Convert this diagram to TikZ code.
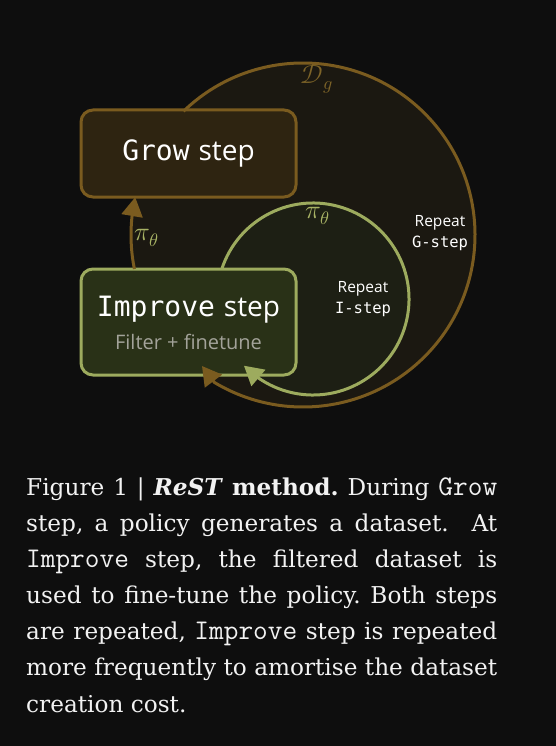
\documentclass[tikz,border=0pt]{standalone}
\usepackage{fontspec}
\usepackage{unicode-math}
\setmathfont{Latin Modern Math}
\setmainfont{DejaVu Serif}
\setsansfont{Open Sans}
\setmonofont{Latin Modern Mono}
\newfontfamily\dmono{DejaVu Sans Mono}
\newcommand\captt[1]{{\fontsize{28.5}{36.1}\selectfont\ttfamily #1}}
\usetikzlibrary{arrows.meta,bending}
\definecolor{bgcol}{HTML}{0E0E0E}
\definecolor{brownline}{HTML}{7A5B1F}
\definecolor{growfill}{HTML}{2E2411}
\definecolor{greenline}{HTML}{9DAB5E}
\definecolor{impfill}{HTML}{293117}
\definecolor{outerdisk}{HTML}{1B1811}
\definecolor{innerdisk}{HTML}{1D1F14}
\definecolor{pilabel}{HTML}{A7B264}
\definecolor{dlabel}{HTML}{7E6428}
\definecolor{subgray}{HTML}{A3A39A}
\definecolor{captext}{HTML}{F2F2F2}
\begin{document}
\begin{tikzpicture}[x=1pt,y=1pt,
  stepbox/.style={rounded corners=12pt, line width=3pt, minimum width=215pt, inner sep=0pt, text=white, align=center},
  tip/.style={-{Triangle[length=19pt,width=21pt]}},
  brownarc/.style={draw=brownline, line width=3pt, tip},
  greenarc/.style={draw=greenline, line width=3pt, tip},
  pilab/.style={text=pilabel, font=\fontsize{26}{28}\selectfont},
  replab/.style={text=white, align=center, font=\fontsize{15.5}{21}\selectfont\sffamily}
]
\fill[bgcol] (0,0) rectangle (556,-746);
\useasboundingbox (0,0) rectangle (556,-746);
% circle centres
\coordinate (oc) at (303,-235);
\coordinate (ic) at (313,-299);
% disks
\fill[outerdisk] (oc) circle[radius=172];
\fill[innerdisk] (ic) circle[radius=96];
% boxes
\node[stepbox, draw=brownline, fill=growfill, minimum height=87pt] (grow) at (188.5,-153.5)
  {\fontsize{28}{32}\selectfont{\dmono Grow} {\sffamily step}};
\node[stepbox, draw=greenline, fill=impfill, minimum height=106pt] (improve) at (188.5,-322) {};
\node[text=white, font=\fontsize{28}{32}\selectfont] (imptitle) at (188.5,-310) {{\dmono Improve} {\sffamily step}};
\node[text=subgray, font=\fontsize{20}{24}\selectfont\sffamily] (impsub) at (188.5,-342) {Filter + finetune};
% outer arc: from Grow step round to Improve step
\path (oc) ++(134:172) coordinate (os);
\coordinate (otip) at (202,-366);
\draw[brownarc] (os) arc[start angle=134, end angle=-121, radius=172] -- (otip);
% left arrow: Improve step -> Grow step
\path (oc) ++(191.4:172) coordinate (ls);
\draw[brownarc] (ls) arc[start angle=191.4, end angle=167.3, radius=172];
% inner arc
\path (ic) ++(162:96) coordinate (is);
\draw[greenarc] (is) arc[start angle=162, end angle=-136, radius=96];
% labels
\node[text=dlabel, font=\fontsize{26}{28}\selectfont] (dg) at (317,-79) {$\mathcal{D}_g$};
\node[pilab] (pileft) at (147,-238) {$\pi_\theta$};
\node[pilab] (pitop) at (318,-216) {$\pi_\theta$};
\node[replab] (repg) at (440,-233) {Repeat\\{\dmono G-step}};
\node[replab] (repi) at (363,-299) {Repeat\\{\dmono I-step}};
% caption
\node[anchor=north west, text width=471pt, align=justify, inner sep=0pt, text=captext,
  font=\fontsize{23.2}{36.1}\selectfont\frenchspacing] (caption) at (26,-477.5)
{Figure 1 | \textbf{\textit{ReST}} \textbf{method.} During \captt{Grow}\linebreak
step, a policy generates a dataset.\ \ At\linebreak
\captt{Improve} step, the filtered dataset is\linebreak
used to fine-tune the policy. Both steps\linebreak
are repeated, \captt{Improve} step is repeated\linebreak
more frequently to amortise the dataset\linebreak
creation cost.};
\end{tikzpicture}
\end{document}
